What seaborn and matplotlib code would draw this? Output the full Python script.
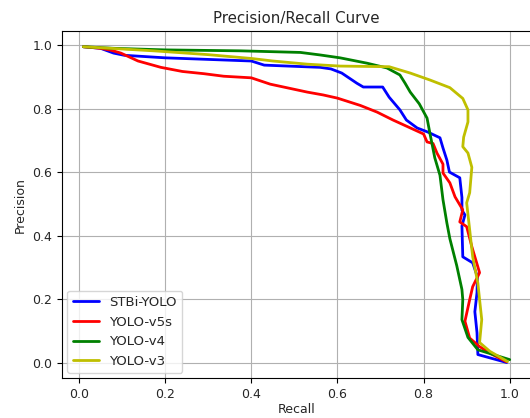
import matplotlib
matplotlib.use('Agg')
import matplotlib.pyplot as plt
import seaborn as sns
import pandas as pd

# values
stbi_recall = [0.01, 0.05, 0.08, 0.105, 0.2, 0.4, 0.43, 0.56, 0.585, 0.61, 0.645, 0.66, 0.705, 0.72,
               0.745, 0.76, 0.785, 0.81, 0.838, 0.845, 0.854, 0.86, 0.884, 0.889, 0.889, 0.896, 0.889,
               0.891, 0.914, 0.925, 0.924, 0.919, 0.924, 0.926, 0.993]
stbi_prec = [0.995, 0.99, 0.975, 0.968, 0.96, 0.95, 0.937, 0.93, 0.925, 0.912, 0.88, 0.868, 0.868, 0.836,
             0.796, 0.764, 0.739, 0.726, 0.708, 0.676, 0.638, 0.60, 0.582, 0.52, 0.48, 0.465, 0.43,
             0.333, 0.314, 0.27, 0.22, 0.16, 0.094, 0.025, 0.0]

v5s_recall = [0.01, 0.05, 0.074, 0.097, 0.137, 0.19, 0.24, 0.29, 0.336, 0.40, 0.444, 0.53, 0.567, 0.60,
              0.653, 0.692, 0.729, 0.80, 0.808, 0.822, 0.831, 0.845, 0.845, 0.861, 0.873, 0.891, 0.884,
              0.90, 0.912, 0.93, 0.914, 0.907, 0.896, 0.907, 0.93, 0.96, 0.993]
v5s_prec = [0.995, 0.99, 0.984, 0.975, 0.95, 0.93, 0.917, 0.91, 0.902, 0.897, 0.877, 0.852, 0.843, 0.833,
            0.81, 0.789, 0.764, 0.72, 0.695, 0.69, 0.66, 0.625, 0.597, 0.566, 0.522, 0.481, 0.443,
            0.428, 0.365, 0.283, 0.239, 0.198, 0.13, 0.077, 0.05, 0.025, 0.002]

v4_recall = [0.01, 0.08, 0.2, 0.375, 0.514, 0.56, 0.606, 0.669, 0.715, 0.745, 0.757, 0.769, 0.79, 0.808,
             0.815, 0.826, 0.838, 0.845, 0.854, 0.861, 0.877, 0.889, 0.891, 0.889, 0.903, 0.926, 1.0]
v4_prec = [0.995, 0.99, 0.985, 0.982, 0.977, 0.969, 0.96, 0.943, 0.928, 0.906, 0.88, 0.852, 0.815, 0.77,
           0.72, 0.645, 0.59, 0.513, 0.44, 0.39, 0.305, 0.23, 0.198, 0.135, 0.079, 0.04, 0.009]

v3_recall = [0.01, 0.174, 0.30, 0.40, 0.45, 0.53, 0.606, 0.72, 0.769, 0.815, 0.861, 0.891, 0.903, 0.903,
             0.893, 0.891, 0.903, 0.912, 0.907, 0.90, 0.907, 0.914, 0.926, 0.93, 0.935, 0.93, 0.954, 0.995]
v3_prec = [0.995, 0.982, 0.97, 0.958, 0.95, 0.94, 0.934, 0.932, 0.912, 0.89, 0.866, 0.832, 0.796, 0.758,
           0.71, 0.68, 0.66, 0.615, 0.535, 0.503, 0.418, 0.333, 0.25, 0.198, 0.135, 0.063, 0.035, 0.003]

names = ['STBi-YOLO', 'YOLO-v5s', 'YOLO-v4', 'YOLO-v3']
colors = ['b', 'r', 'g', 'y']
series = [(stbi_recall, stbi_prec), (v5s_recall, v5s_prec), (v4_recall, v4_prec), (v3_recall, v3_prec)]

sns.set_style('ticks', {'axes.grid': True, 'grid.color': '#b0b0b0', 'axes.edgecolor': 'black'})
plt.rcParams['font.family'] = ['DejaVu Sans']

fig = plt.figure(figsize=(5.3, 4.18), dpi=100)
ax = fig.add_axes([0.117, 0.095, 0.885, 0.831])

for name, col, (r, p) in zip(names, colors, series):
    df = pd.DataFrame({'Recall': r, 'Precision': p})
    sns.lineplot(data=df, x='Recall', y='Precision', sort=False, estimator=None,
                 color=col, linewidth=2, label=name, ax=ax)

ax.set_xticks([0.0, 0.2, 0.4, 0.6, 0.8, 1.0])
ax.set_yticks([0.0, 0.2, 0.4, 0.6, 0.8, 1.0])
ax.tick_params(labelsize=9, color='black', direction='out', length=3.5)
ax.set_xlabel('Recall', fontsize=9, labelpad=1.5)
ax.set_ylabel('Precision', fontsize=9)
ax.set_title('Precision/Recall Curve', fontsize=10.8)
ax.legend(loc='lower left', fontsize=9.5, framealpha=0.8, borderaxespad=0.4)
for s in ax.spines.values():
    s.set_linewidth(0.8)

plt.savefig('out.png', dpi=100)
